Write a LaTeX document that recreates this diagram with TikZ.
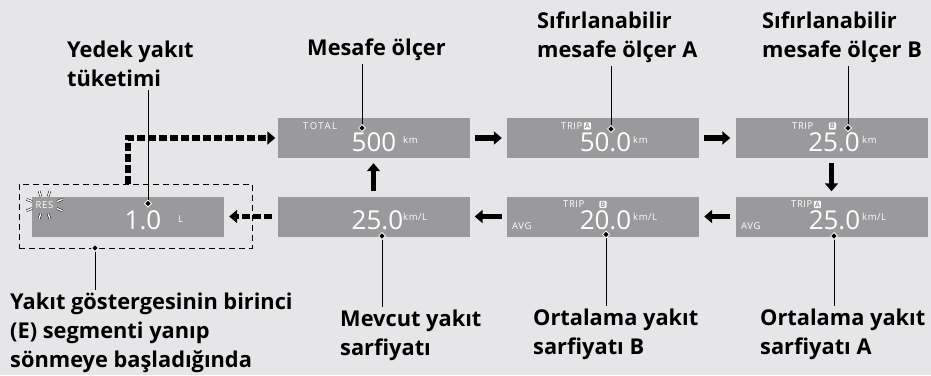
\documentclass[tikz,border=0pt]{standalone}
\usepackage{fontspec}
\setmainfont{Open Sans}
\newfontfamily\lcdfont{Open Sans}[LetterSpace=6]
\usetikzlibrary{arrows.meta,calc,positioning}
\definecolor{bgcol}{HTML}{E6E6E8}
\definecolor{lcd}{HTML}{9A9A9C}

\begin{document}
\begin{tikzpicture}[x=1pt,y=-1pt,
    lcdbox/.style={rectangle,fill=lcd,minimum width=192pt,minimum height=40pt,inner sep=0pt},
    digits/.style={text=white,font=\fontsize{26}{26}\selectfont,inner sep=0pt},
    small/.style={text=white,font=\lcdfont\fontsize{9.5}{9.5}\selectfont,inner sep=0pt},
    tag/.style={fill=white,text=lcd,rounded corners=1pt,inner sep=1pt,font=\fontsize{7.5}{7.5}\selectfont\bfseries},
    lbl/.style={font=\fontsize{21.8}{29}\selectfont\bfseries,align=left,inner sep=0pt,anchor=north west},
    arr/.style={line width=5.5pt,-{Triangle[length=8pt,width=13pt]},shorten <=5pt,shorten >=5pt},
    dasharr/.style={arr,dash pattern=on 8pt off 3pt},
    ptr/.style={line width=1pt,shorten <=3pt,-{Turned Square[length=8pt,width=8pt,fill=black,color=white,line width=0.8pt]}},
    tick/.style={line width=0.5pt,double=white,double distance=1.4pt}
  ]
    \fill[bgcol] (0,0) rectangle (931,375);
    \useasboundingbox (0,0) rectangle (931,375);

    % 显示屏
    \node[lcdbox] (tot) at (373.5,138) {};
    \node[lcdbox] (tripa) at (603,138) {};
    \node[lcdbox] (tripb) at (831.5,138) {};
    \node[lcdbox] (res) at (128,216.5) {};
    \node[lcdbox] (cur) at (373.5,216.5) {};
    \node[lcdbox] (avgb) at (603,216.5) {};
    \node[lcdbox] (avga) at (831.5,216.5) {};
    \node[draw,dashed,dash pattern=on 6pt off 4pt,line width=0.8pt,minimum width=233pt,minimum height=64pt,inner sep=0pt] (frame) at (135.5,216) {};

    % 数字
    \node[digits] (totnum) at (374,142.5) {500};
    \node[digits] (tripanum) at (605.5,142.5) {50.0};
    \node[digits] (tripbnum) at (834,142.5) {25.0};
    \node[digits] (resnum) at (143,220.5) {1.0};
    \node[digits] (curnum) at (377.5,220.5) {25.0};
    \node[digits] (avgbnum) at (605.5,220.5) {20.0};
    \node[digits] (avganum) at (834.5,220.5) {25.0};

    % 单位和小字
    \node[small,anchor=west] (totunit) at (403,139.5) {km};
    \node[small,anchor=west] (tripaunit) at (633,139.5) {km};
    \node[small,anchor=west] (tripbunit) at (862,139.5) {km};
    \node[small,anchor=west] (resunit) at (178,219) {L};
    \node[small,anchor=west] (curunit) at (403,217) {km/L};
    \node[small,anchor=west] (avgbunit) at (633,217) {km/L};
    \node[small,anchor=west] (avgaunit) at (862,217) {km/L};
    \node[small,anchor=west,font=\lcdfont\fontsize{9.5}{9.5}\selectfont\addfontfeature{LetterSpace=16}] (totlbl) at (303,126) {TOTAL};
    \node[small,anchor=west] (tripalbl) at (561,126) {TRIP};
    \node[tag,right=1pt of tripalbl] (tripatag) {A};
    \node[small,anchor=west] (tripblbl) at (792,126) {TRIP};
    \node[tag] (tripbtag) at (832.5,126) {B};
    \node[small,anchor=west] (avgblbl) at (563,204.5) {TRIP};
    \node[tag] (avgbtag) at (603,204.5) {B};
    \node[small,anchor=west] (avgalbl) at (791,204.5) {TRIP};
    \node[tag,right=1pt of avgalbl] (avgatag) {A};
    \node[small,anchor=west] (avgbavg) at (512,226) {AVG};
    \node[small,anchor=west] (avgaavg) at (741,226) {AVG};
    \node[small] (reslbl) at (44.5,205) {RES};
    \foreach \a in {23,74,106,157,203,254,286,337}
        \draw[tick] ($(reslbl)+(\a:13.5 and 9)$) -- ($(reslbl)+(\a:19.5 and 14.5)$);

    % 箭头
    \draw[arr] (tot) -- (tripa);
    \draw[arr] (tripa) -- (tripb);
    \draw[arr] (tripb) -- (avga);
    \draw[arr] (avga) -- (avgb);
    \draw[arr] (avgb) -- (cur);
    \draw[arr] (cur) -- (tot);
    \draw[dasharr] (cur) -- (res);
    \draw[dasharr,shorten <=0pt,shorten >=2pt] (frame.north -| res.center) |- (tot.west);

    % 说明文字
    \node[lbl] (yed) at (67,41.2) {Yedek yakıt\\tüketimi};
    \node[lbl] (mes) at (307,38.2) {Mesafe ölçer};
    \node[lbl] (sfa) at (537,11.2) {Sıfırlanabilir\\mesafe ölçer A};
    \node[lbl] (sfb) at (762,11.2) {Sıfırlanabilir\\mesafe ölçer B};
    \node[lbl] (mev) at (340,310.2) {Mevcut yakıt\\sarfiyatı};
    \node[lbl] (ortb) at (533,309.2) {Ortalama yakıt\\sarfiyatı B};
    \node[lbl] (orta) at (760,309.2) {Ortalama yakıt\\sarfiyatı A};
    \node[lbl] (gos) at (10,293.2) {Yakıt göstergesinin birinci\\(E) segmenti yanıp\\sönmeye başladığında};

    % 指示线
    \coordinate (yedpt) at (148,207.5);
    \coordinate (mespt) at (362,132);
    \coordinate (sfapt) at (611,133);
    \coordinate (sfbpt) at (848,132);
    \coordinate (mevpt) at (382,232);
    \coordinate (ortbpt) at (606,230.5);
    \coordinate (ortapt) at (834,232);
    \coordinate (gospt) at (95,244);
    \draw[ptr] (yed.south -| yedpt) -- (yedpt);
    \draw[ptr] (mes.south -| mespt) -- (mespt);
    \draw[ptr] (sfa.south -| sfapt) -- (sfapt);
    \draw[ptr] (sfb.south -| sfbpt) -- (sfbpt);
    \draw[ptr] (mev.north -| mevpt) -- (mevpt);
    \draw[ptr] (ortb.north -| ortbpt) -- (ortbpt);
    \draw[ptr] (orta.north -| ortapt) -- (ortapt);
    \draw[ptr] (gos.north -| gospt) -- (gospt);
\end{tikzpicture}
\end{document}
